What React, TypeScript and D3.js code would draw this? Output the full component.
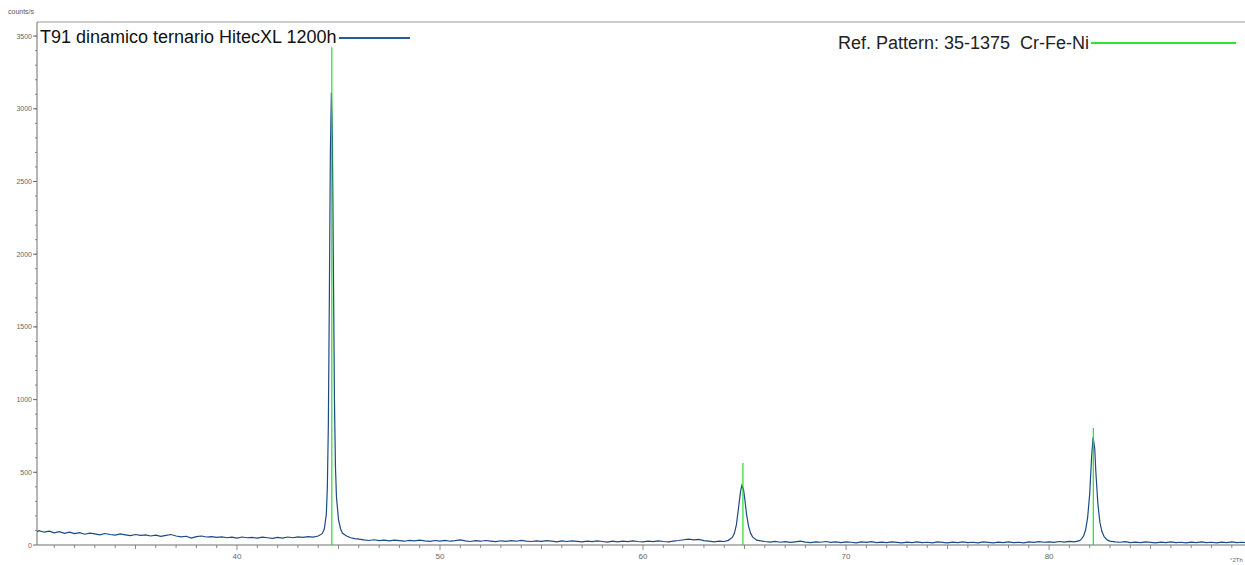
import React from "react";
import * as d3 from "d3";

const scanAngles: number[] = [
  30.15, 30.25, 30.5, 30.75, 31.0, 31.25, 31.5, 31.75, 32.0, 32.25, 32.5, 32.75, 33.0, 33.25, 33.5, 33.75,
  34.0, 34.25, 34.5, 34.75, 35.0, 35.25, 35.5, 35.75, 36.0, 36.25, 36.5, 36.75, 37.0, 37.25, 37.5, 37.75,
  38.0, 38.25, 38.5, 38.75, 39.0, 39.25, 39.5, 39.75, 40.0, 40.25, 40.5, 40.75, 41.0, 41.25, 41.5, 41.75,
  42.0, 42.25, 42.5, 42.75, 43.0, 43.25, 43.5, 43.75, 44.0, 44.2, 44.3, 44.4, 44.45, 44.5, 44.55, 44.6,
  44.65, 44.7, 44.75, 44.8, 44.85, 44.9, 45.0, 45.1, 45.2, 45.4, 45.6, 45.8, 46.0, 46.25, 46.5, 46.75,
  47.0, 47.25, 47.5, 47.75, 48.0, 48.25, 48.5, 48.75, 49.0, 49.25, 49.5, 49.75, 50.0, 50.25, 50.5, 50.75,
  51.0, 51.25, 51.5, 51.75, 52.0, 52.25, 52.5, 52.75, 53.0, 53.25, 53.5, 53.75, 54.0, 54.25, 54.5, 54.75,
  55.0, 55.25, 55.5, 55.75, 56.0, 56.25, 56.5, 56.75, 57.0, 57.25, 57.5, 57.75, 58.0, 58.25, 58.5, 58.75,
  59.0, 59.25, 59.5, 59.75, 60.0, 60.25, 60.5, 60.75, 61.0, 61.25, 61.5, 61.75, 62.0, 62.25, 62.5, 62.75,
  63.0, 63.25, 63.5, 63.75, 64.0, 64.2, 64.4, 64.5, 64.6, 64.7, 64.8, 64.87, 64.95, 65.0, 65.1, 65.2,
  65.3, 65.4, 65.6, 65.8, 66.0, 66.25, 66.5, 66.75, 67.0, 67.25, 67.5, 67.75, 68.0, 68.25, 68.5, 68.75,
  69.0, 69.25, 69.5, 69.75, 70.0, 70.25, 70.5, 70.75, 71.0, 71.25, 71.5, 71.75, 72.0, 72.25, 72.5, 72.75,
  73.0, 73.25, 73.5, 73.75, 74.0, 74.25, 74.5, 74.75, 75.0, 75.25, 75.5, 75.75, 76.0, 76.25, 76.5, 76.75,
  77.0, 77.25, 77.5, 77.75, 78.0, 78.25, 78.5, 78.75, 79.0, 79.25, 79.5, 79.75, 80.0, 80.25, 80.5, 80.75,
  81.0, 81.25, 81.5, 81.6, 81.7, 81.8, 81.9, 82.0, 82.1, 82.17, 82.25, 82.3, 82.4, 82.5, 82.6, 82.7,
  82.8, 82.9, 83.0, 83.25, 83.5, 83.75, 84.0, 84.25, 84.5, 84.75, 85.0, 85.25, 85.5, 85.75, 86.0, 86.25,
  86.5, 86.75, 87.0, 87.25, 87.5, 87.75, 88.0, 88.25, 88.5, 88.75, 89.0, 89.25, 89.5, 89.65,
];
const scanCounts: number[] = [
  92, 98, 88, 95, 84, 92, 80, 88, 78, 85, 74, 82, 76, 70, 79, 72,
  68, 76, 70, 64, 72, 66, 70, 62, 68, 60, 66, 72, 62, 56, 60, 48,
  58, 62, 55, 58, 52, 56, 50, 54, 48, 55, 50, 52, 47, 54, 50, 46,
  52, 48, 55, 50, 56, 52, 58, 54, 62, 78, 110, 210, 390, 820, 1700, 2700,
  3110, 2800, 1900, 1000, 540, 330, 175, 112, 80, 62, 50, 44, 40, 35, 31, 36,
  30, 33, 28, 34, 30, 26, 32, 28, 34, 29, 25, 31, 27, 32, 26, 30,
  35, 28, 24, 30, 26, 31, 27, 23, 29, 25, 30, 26, 32, 27, 24, 29,
  25, 30, 26, 22, 28, 24, 29, 25, 21, 27, 23, 28, 24, 20, 26, 22,
  27, 23, 28, 24, 21, 27, 23, 28, 24, 22, 27, 31, 36, 40, 35, 38,
  30, 26, 22, 27, 24, 32, 52, 80, 140, 250, 365, 410, 380, 330, 210, 128,
  80, 54, 33, 28, 24, 20, 25, 19, 23, 18, 22, 26, 20, 17, 22, 19,
  24, 18, 21, 16, 22, 19, 15, 21, 18, 23, 17, 20, 16, 22, 18, 14,
  20, 17, 22, 16, 19, 15, 21, 18, 14, 20, 17, 22, 16, 19, 15, 21,
  18, 14, 20, 17, 22, 16, 19, 15, 21, 18, 23, 19, 22, 18, 24, 20,
  25, 22, 30, 42, 62, 105, 190, 350, 620, 740, 660, 510, 290, 158, 94, 60,
  43, 32, 27, 22, 19, 23, 17, 20, 16, 21, 18, 15, 20, 17, 22, 16,
  19, 15, 20, 17, 21, 16, 19, 15, 20, 17, 21, 16, 19, 17,
];

// Reference pattern 35-1375 Cr-Fe-Ni sticks
const refAngles: number[] = [44.67, 64.92, 82.18];
const refCounts: number[] = [3424, 564, 805];

const xMajorTicks: number[] = [40, 50, 60, 70, 80];
const yMajorTicks: number[] = [0, 500, 1000, 1500, 2000, 2500, 3000, 3500];

const sampleLabel = "T91 dinamico ternario HitecXL 1200h";
const refLabel = "Ref. Pattern: 35-1375  Cr-Fe-Ni";

export default function App() {
  const W = 1245;
  const H = 565;
  const left = 37;
  const right = 1245;
  const top = 22;
  const bottom = 545;

  const x = d3.scaleLinear().domain([30.15, 89.65]).range([left, right]);
  const y = d3.scaleLinear().domain([0, 3597]).range([bottom, top]);

  const pts: [number, number][] = scanAngles.map((a, i) => [a, scanCounts[i]]);
  const line = d3
    .line<[number, number]>()
    .x((d) => x(d[0]))
    .y((d) => y(d[1]));

  const xMinor = d3.range(31, 90, 1);
  const yMinor = d3.range(100, 3600, 100);
  const axisColor = "#6e6e6e";
  const font = "'Liberation Sans', Arial, sans-serif";

  return (
    <svg
      width={W}
      height={H}
      style={{ position: "absolute", left: 0, top: 0, background: "#fff" }}
    >
      <defs>
        <clipPath id="plotclip">
          <rect x={left} y={top} width={right - left} height={bottom - top + 1} />
        </clipPath>
      </defs>
      <text x={8} y={14} fontSize={7} fill="#555" fontFamily={font}>
        counts/s
      </text>
      {/* frame */}
      <line x1={left} x2={right} y1={top} y2={top} stroke="#999" strokeWidth={1} />
      <line x1={left} x2={left} y1={top} y2={bottom} stroke={axisColor} strokeWidth={1} />
      <line x1={left} x2={right} y1={bottom} y2={bottom} stroke={axisColor} strokeWidth={1} />

      {/* y ticks */}
      {yMinor.map((v) => (
        <line key={"ym" + v} x1={left - 2} x2={left} y1={y(v)} y2={y(v)} stroke={axisColor} strokeWidth={0.8} />
      ))}
      {yMajorTicks.map((v) => (
        <g key={"y" + v}>
          <line x1={left - 4} x2={left} y1={y(v)} y2={y(v)} stroke={axisColor} strokeWidth={1} />
          <text x={left - 5} y={y(v) + 2.5} fontSize={7} textAnchor="end" fill="#666" fontFamily={font}>
            {v}
          </text>
        </g>
      ))}

      {/* x ticks */}
      {xMinor.map((v) => (
        <line
          key={"xm" + v}
          x1={x(v)}
          x2={x(v)}
          y1={bottom}
          y2={bottom + (v % 10 === 0 ? 5 : v % 5 === 0 ? 4 : 3)}
          stroke={axisColor}
          strokeWidth={0.8}
        />
      ))}
      {xMajorTicks.map((v) => (
        <text key={"x" + v} x={x(v)} y={bottom + 14} fontSize={8} textAnchor="middle" fill="#666" fontFamily={font}>
          {v}
        </text>
      ))}
      <text x={1230} y={562} fontSize={6} fill="#666" fontFamily={font}>
        °2Th
      </text>

      <g clipPath="url(#plotclip)">
        <path d={line(pts) || ""} fill="none" stroke="#1d4a86" strokeWidth={1.2} />
        {refAngles.map((a, i) => (
          <line
            key={"r" + i}
            x1={x(a)}
            x2={x(a)}
            y1={y(0)}
            y2={y(refCounts[i])}
            stroke="#22dd22"
            strokeWidth={1.3}
            opacity={0.9}
          />
        ))}
      </g>

      {/* legends */}
      <text x={40} y={43} fontSize={18} fill="#111" fontFamily={font}>
        {sampleLabel}
      </text>
      <line x1={339} x2={410} y1={38} y2={38} stroke="#2a5c9c" strokeWidth={2} />
      <text x={838} y={49} fontSize={18} fill="#222" fontFamily={font} style={{ whiteSpace: "pre" }}>
        {refLabel}
      </text>
      <line x1={1091} x2={1236} y1={43} y2={43} stroke="#33e033" strokeWidth={2} />
    </svg>
  );
}
